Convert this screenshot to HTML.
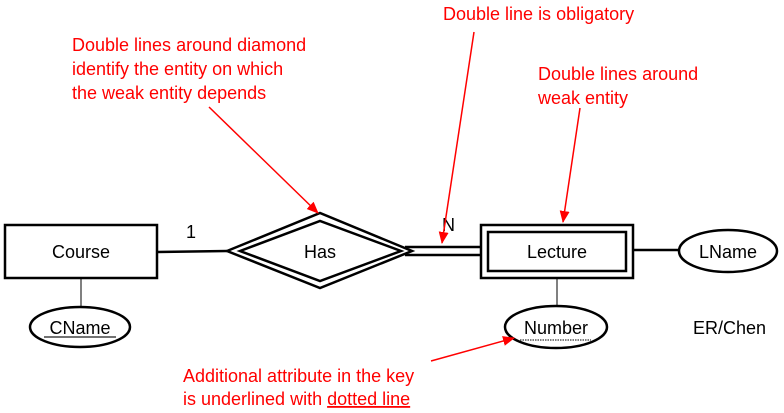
<!DOCTYPE html>
<html><head><meta charset="utf-8"><style>
html,body{margin:0;padding:0;background:#fff;}
svg{display:block;font-family:"Liberation Sans",sans-serif;}
</style></head><body>
<svg width="784" height="413" viewBox="0 0 784 413">
<defs><marker id="ah" markerWidth="12" markerHeight="10" refX="11" refY="5" orient="auto" markerUnits="userSpaceOnUse"><path d="M0,0 L12,5 L0,10 z" fill="#f00"/></marker></defs>
<g stroke="#000" fill="none">
<line x1="157" y1="252" x2="227" y2="251" stroke-width="2.5"/>
<line x1="405" y1="247" x2="480" y2="247" stroke-width="2.5"/>
<line x1="405" y1="255" x2="480" y2="255" stroke-width="2.5"/>
<line x1="633" y1="250" x2="680" y2="250" stroke-width="2.5"/>
<line x1="81" y1="278" x2="81" y2="308" stroke-width="1"/>
<line x1="557" y1="278" x2="557" y2="308" stroke-width="1"/>
</g>
<g>
<rect x="5" y="225" width="152" height="53" fill="#fff" stroke="#000" stroke-width="2.5"/>
<text x="81" y="258" font-size="18" text-anchor="middle">Course</text>
</g>
<g fill="#fff" stroke="#000" stroke-width="2.5">
<polygon points="227,251 320,213 412,251 320,288"/>
<polygon points="240,251 320,221 401,251 320,281"/>
<text x="320" y="258" font-size="18" text-anchor="middle" fill="#000" stroke="none">Has</text>
</g>
<g fill="#fff" stroke="#000" stroke-width="2.5">
<rect x="481" y="225" width="152" height="53"/>
<rect x="488" y="232" width="138" height="39"/>
<text x="557" y="258" font-size="18" text-anchor="middle" fill="#000" stroke="none">Lecture</text>
</g>
<g>
<ellipse cx="728" cy="251" rx="49" ry="21" fill="#fff" stroke="#000" stroke-width="2.5"/>
<text x="728" y="258" font-size="18" text-anchor="middle">LName</text>
</g>
<g>
<ellipse cx="80" cy="327" rx="50" ry="20" fill="#fff" stroke="#000" stroke-width="2.5"/>
<text x="80" y="334" font-size="18" text-anchor="middle" fill="#000">CName</text>
<line x1="44" y1="337" x2="116" y2="337" stroke="#444" stroke-width="1.5"/>
</g>
<g>
<ellipse cx="556" cy="327" rx="51" ry="21" fill="#fff" stroke="#000" stroke-width="2.5"/>
<text x="556" y="334" font-size="18" text-anchor="middle">Number</text>
<line x1="520" y1="340" x2="591" y2="340" stroke="#000" stroke-width="1" stroke-dasharray="1.5,1"/>
</g>
<text x="186" y="238" font-size="18">1</text>
<text x="442" y="231" font-size="18">N</text>
<text x="693" y="334" font-size="18">ER/Chen</text>
<g fill="#f00" font-size="18">
<text x="72" y="51">Double lines around diamond</text>
<text x="72" y="75">identify the entity on which</text>
<text x="72" y="99">the weak entity depends</text>
<text x="443" y="20">Double line is obligatory</text>
<text x="538" y="80">Double lines around</text>
<text x="538" y="104">weak entity</text>
<text x="183" y="382">Additional attribute in the key</text>
<text x="183" y="405">is underlined with <tspan text-decoration="underline">dotted line</tspan></text>
</g>
<g stroke="#f00" stroke-width="1.5" fill="none">
<line x1="209" y1="107" x2="318" y2="213" marker-end="url(#ah)"/>
<line x1="474" y1="32" x2="442" y2="243" marker-end="url(#ah)"/>
<line x1="580" y1="108" x2="563" y2="222" marker-end="url(#ah)"/>
<line x1="431" y1="361" x2="514" y2="338" marker-end="url(#ah)"/>
</g>
</svg>
</body></html>
